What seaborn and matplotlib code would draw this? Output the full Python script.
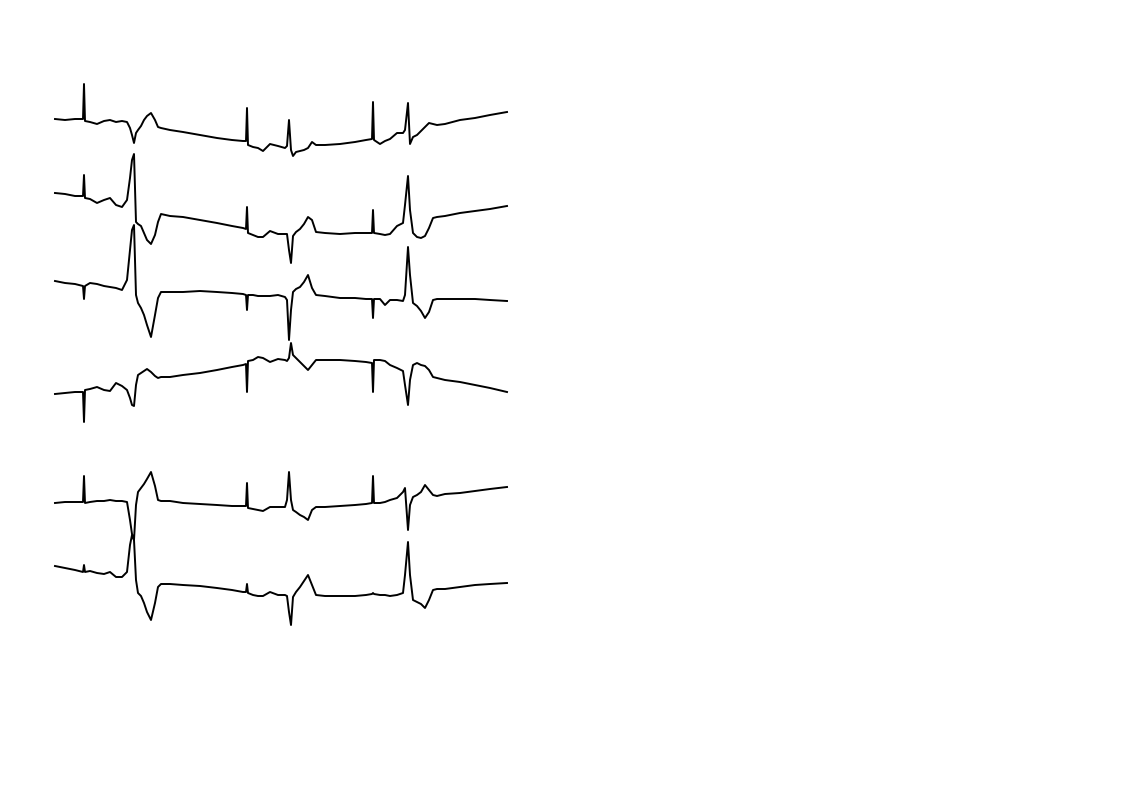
import matplotlib
matplotlib.use("Agg")
import matplotlib.pyplot as plt
import pandas as pd
import seaborn as sns

# sample index of each reading (shared by all six leads)
samples = [
    0, 10, 20, 28, 29, 30, 35, 42, 49, 55,
    61, 67, 72, 75, 77, 79, 81, 83, 86, 89,
    92, 96, 100, 103, 106, 115, 128, 145, 162, 177,
    188, 191, 192, 193, 198, 203, 208, 215, 223, 230,
    232, 234, 236, 238, 241, 245, 249, 253, 257, 261,
    270, 285, 300, 311, 317, 318, 319, 325, 330, 335,
    342, 348, 350, 353, 355, 358, 362, 366, 370, 374,
    378, 382, 390, 405, 420, 435, 452,
]

lead_1 = [
    1, 0, 1, 1, 36, -1, -2, -4, -1, 0,
    -2, -1, -2, -8, -15, -23, -13, -10, -6, 0,
    4, 7, 0, -7, -8, -10, -12, -15, -18, -20,
    -21, -21, 12, -25, -27, -28, -31, -24, -26, -28,
    -26, 0, -30, -36, -32, -31, -30, -28, -22, -25,
    -25, -24, -22, -20, -19, 18, -20, -24, -21, -19,
    -13, -13, -10, 17, -24, -17, -15, -11, -7, -3,
    -4, -5, -4, 0, 2, 5, 8,
]
lead_2 = [
    2, 1, -1, -1, 20, -3, -4, -8, -5, -3,
    -10, -12, -5, 17, 35, 41, -27, -29, -31, -38,
    -45, -49, -40, -27, -19, -21, -22, -25, -28, -31,
    -33, -34, -12, -38, -40, -42, -42, -36, -39, -39,
    -39, -55, -68, -41, -37, -34, -29, -22, -25, -37,
    -38, -39, -38, -38, -38, -15, -38, -39, -40, -39,
    -31, -28, -10, 19, -15, -38, -42, -43, -41, -33,
    -23, -22, -21, -18, -16, -14, -11,
]
lead_3 = [
    4, 2, 1, -1, -14, -1, 2, 1, -1, -2,
    -3, -5, 5, 35, 55, 60, -10, -18, -23, -30,
    -40, -52, -30, -13, -7, -7, -7, -6, -7, -8,
    -9, -10, -25, -10, -10, -11, -11, -11, -10, -12,
    -15, -55, -25, -7, -4, -2, 3, 10, -3, -10,
    -11, -13, -13, -14, -14, -33, -14, -14, -20, -15,
    -15, -16, -10, 38, 10, -18, -21, -26, -33, -27,
    -15, -14, -14, -14, -14, -15, -16,
]
lead_4 = [
    -4, -3, -2, -2, -32, 0, 1, 3, 0, -1,
    7, 4, 0, -8, -15, -16, 5, 15, 17, 19,
    21, 18, 14, 12, 13, 13, 15, 17, 20, 23,
    25, 26, -2, 29, 30, 33, 32, 28, 31, 30,
    29, 32, 47, 35, 32, 28, 24, 20, 25, 30,
    30, 30, 29, 28, 27, -2, 30, 30, 29, 25,
    22, 19, 5, -15, 10, 25, 27, 25, 24, 20,
    13, 12, 10, 8, 5, 2, -2,
]
lead_5 = [
    0, 1, 1, 1, 27, 0, 1, 2, 2, 3,
    2, 2, 1, -17, -31, -37, -2, 11, 15, 19,
    24, 31, 17, 3, 2, 2, 0, -1, -2, -3,
    -3, -3, 20, -5, -6, -7, -8, -4, -4, -4,
    3, 31, 3, -7, -9, -12, -14, -17, -7, -4,
    -4, -3, -2, -1, 0, 27, 0, 0, 1, 3,
    5, 11, 15, -27, -2, 6, 8, 11, 18, 13,
    8, 7, 9, 10, 12, 14, 16,
]
lead_6 = [
    4, 2, 0, -2, 5, -2, -1, -3, -4, -2,
    -7, -7, -2, 25, 35, 30, -10, -23, -26, -33,
    -42, -50, -33, -17, -14, -14, -15, -16, -18, -20,
    -22, -22, -14, -23, -25, -26, -26, -22, -25, -25,
    -26, -42, -55, -27, -22, -17, -11, -5, -15, -25,
    -26, -26, -26, -25, -24, -23, -24, -25, -25, -26,
    -25, -23, -5, 28, -5, -30, -32, -34, -38, -30,
    -20, -19, -19, -17, -15, -14, -13,
]

leads = [lead_1, lead_2, lead_3, lead_4, lead_5, lead_6]
# baseline of each lead on the page (counted downward from the top)
baselines = [120, 195, 285, 390, 503, 570]

fig = plt.figure(figsize=(11.22, 7.93), dpi=100)
ax = fig.add_axes([0, 0, 1, 1])

for amp, base in zip(leads, baselines):
    df = pd.DataFrame({"t": samples, "v": [a - base for a in amp]})
    sns.lineplot(data=df, x="t", y="v", ax=ax, color="black", lw=1.4,
                 estimator=None, sort=False)

ax.set_xlim(-55, 1067)
ax.set_ylim(-793, 0)
ax.axis("off")

fig.savefig("out.png", dpi=100, facecolor="white")
